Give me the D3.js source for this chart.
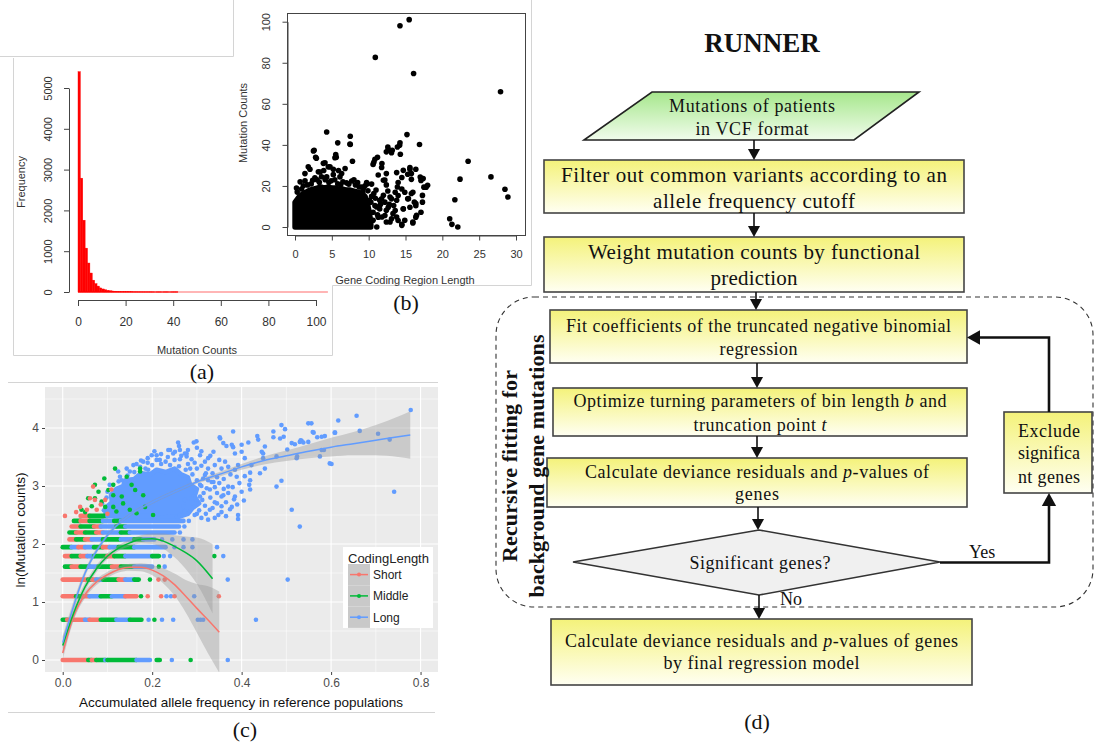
<!DOCTYPE html>
<html>
<head>
<meta charset="utf-8">
<script src="https://cdn.jsdelivr.net/npm/d3@7"></script>
<style>
  html, body { margin: 0; padding: 0; background: #fff; }
  svg { display: block; }
  .rplot text { font-family: 'Liberation Sans', Arial, sans-serif; fill: #333; }
  .flow text, .plabel { font-family: 'Liberation Serif', 'Times New Roman', serif; fill: #111; }
</style>
</head>
<body>
<svg id="fig" width="1096" height="744"></svg>
<script>
// ── (a) histogram: one bin per mutation count ─────────────────
const histCounts = [5400, 2790, 1760, 1075, 710, 465, 290, 205, 145, 100,
  75, 55, 42, 32, 25, 20, 16, 12, 10, 8,
  7, 6, 5, 4, 4, 3, 3, 2, 2, 2,
  2, 1, 0, 1, 1, 0, 1, 1, 0, 1, 1, 1]
const histRangeMax = 105
const histXTicks = [0, 20, 40, 60, 80, 100]
const histYTicks = [0, 1000, 2000, 3000, 4000, 5000]

// ── (b) scatter: coding length vs mutation counts ─────────────
// upper edge of the solid black cloud
const cloudTop = [[0, 0], [0, 12], [0.5, 14.5], [1, 16], [1.5, 17], [2, 18], [2.5, 18.5], [3, 19],
  [3.5, 19.5], [4, 19], [4.5, 19.5], [5, 19], [5.5, 19], [6, 18.5], [6.5, 18.5], [7, 18], [7.5, 18],
  [8, 17.5], [8.5, 17], [9, 16.5], [9.5, 15], [9.8, 12], [10.1, 7], [10.3, 2], [10.3, 0]]
const scatterPoints = [
  [15.5, 101], [14.25, 98], [10.9, 82.6], [16.1, 74.8], [27.9, 65.9], [4.3, 46.3], [15.2, 45], [7.5, 44.2],
  [7.5, 40.2], [5.8, 41], [14.25, 41], [16.9, 40.2], [12.6, 39], [13.9, 39], [2.5, 37], [13.2, 37.4],
  [12.4, 36.6], [14.3, 35.4], [23.5, 32], [11.2, 34], [10.7, 31.5], [11.8, 30.9], [7.8, 32], [2.8, 34],
  [5.6, 34], [15.6, 29], [15.8, 26], [14.7, 27.6], [17.4, 23.6], [22.4, 23.3], [26.6, 24.4], [18, 20.3],
  [17.3, 15.4], [21.7, 13.3], [28.5, 18.4], [28.9, 14.6], [21, 4], [21.3, 1.3], [22.1, 0], [11.1, 0],
  [16.4, 11.4], [16.5, 5.7], [16, 2], [14.5, 1.3], [14.9, 3.3], [13.9, 19.5], [12.4, 26], [12, 22.8],
  [12.9, 14.6], [13.8, 13], [11.5, 13], [11.1, 9.8], [12.4, 8.1], [14.7, 8.9], [13.3, 6.5], [11.8, 4.9],
  [10.6, 3.3], [12.9, 2.4], [13.8, 4.9], [15.4, 13.8], [15.8, 16.3], [10.7, 16.3], [9.8, 21], [9, 19.5],
  [6.8, 28.5], [4.75, 29.3], [3.85, 31], [1.8, 29.3], [1.35, 26], [0.7, 22], [3.4, 26.8], [6.1, 24.4],
  [4.3, 24.4], [7.46, 40.4], [2.6, 37.4], [5.53, 35.3], [5.42, 33.7], [2.9, 33.5], [2.03, 28.1],
  [3.17, 26.9], [4.52, 29.3], [5.2, 28.1], [4.07, 31.3], [6.33, 26], [1.13, 20.1], [1.36, 22.5],
  [9.5, 20.1], [10.4, 20.9], [9.72, 21.7], [10.6, 30.5], [10.85, 33], [11.76, 29], [12.66, 37.9],
  [13.1, 36.2], [14.2, 39.8], [11.3, 25.3], [12.2, 22.9], [12.4, 20.5], [13.8, 26.5], [14, 21.7],
  [14.5, 24.1], [15.6, 28.1], [15.8, 23.2], [14.5, 18.5], [13.6, 16.9], [11.76, 13.7], [12.2, 12.1],
  [13.1, 13.7], [14, 15.3], [14.9, 16.9], [16, 16.9], [15.3, 13.7], [16.2, 12.1], [16.4, 10.4],
  [15.6, 9.6], [14.7, 8.8], [13.6, 8], [12.66, 9.6], [11.5, 8.8], [10.85, 10.4], [10.6, 7.2], [11.3, 4.8],
  [12.2, 5.6], [13.1, 4], [14, 3.2], [14.5, 0.8], [12.4, 2.4], [16, 2.4], [16.4, 4.8], [17.1, 7.2],
  [17.3, 12.1], [17.5, 19.4], [17.8, 19.4], [17.1, 22.7], [17, 24.3], [16.4, 28.1], [15.3, 25.7],
  [9.5, 10.4], [9.95, 7.2], [9.05, 0.8], [9.7, 3.2], [10.2, 1.6], [10.3, 12], [10.9, 14], [11.2, 6],
  [11.6, 11], [12.8, 11], [12, 15.5], [13.4, 10.5], [10.4, 15], [11, 18], [12.6, 17.5],
  [0.3, 17], [0.9, 18.5], [2.2, 21], [3, 23], [4.9, 22.5], [5.4, 23], [7, 21.5], [8.2, 20.5],
  [8.7, 19.5], [9.2, 17], [2.7, 24], [3.6, 24.5], [6.5, 22], [8, 23], [5.2, 25.5],
  [1.7, 20.5], [2.4, 22.8], [3.3, 21.8], [4.1, 23], [4.6, 21.8], [5.8, 21], [6.2, 20.6], [7.3, 20.8],
  [7.7, 22.4], [8.5, 21.6], [9.3, 19], [9.9, 17.6], [10.1, 13], [3.9, 27.5], [5.9, 27.5], [0.2, 19]]
const scatterXTicks = [0, 5, 10, 15, 20, 25, 30]
const scatterYTicks = [0, 20, 40, 60, 80, 100]

// ── (c) ln(counts) vs allele frequency, by coding length ─────
const groups = ['Short', 'Middle', 'Long']
const groupCodes = { S: 'Short', M: 'Middle', L: 'Long' }
// runs of overlapping points on the level y = ln(k): [k, x from, x to, group]
const stripRuns = [
  [1, 0, 0.057, 'S'], [1, 0.057, 0.065, 'M'], [1, 0.065, 0.075, 'S'], [1, 0.075, 0.095, 'M'], [1, 0.095, 0.1, 'L'], [1, 0.1, 0.165, 'M'], [1, 0.165, 0.195, 'L'], [1, 0.21, 0.217, 'M'],
  [2, 0, 0.01, 'M'], [2, 0.01, 0.05, 'S'], [2, 0.05, 0.06, 'L'], [2, 0.06, 0.08, 'S'], [2, 0.085, 0.12, 'M'], [2, 0.12, 0.15, 'L'], [2, 0.15, 0.176, 'M'],
  [3, 0, 0.03, 'S'], [3, 0.03, 0.045, 'M'], [3, 0.045, 0.06, 'S'], [3, 0.06, 0.085, 'L'], [3, 0.085, 0.11, 'M'], [3, 0.11, 0.14, 'L'], [3, 0.14, 0.165, 'S'],
  [4, 0, 0.057, 'S'], [4, 0.057, 0.065, 'M'], [4, 0.065, 0.075, 'S'], [4, 0.075, 0.09, 'L'], [4, 0.09, 0.125, 'M'], [4, 0.125, 0.14, 'S'], [4, 0.14, 0.16, 'L'], [4, 0.16, 0.17, 'M'],
  [5, 0.005, 0.02, 'M'], [5, 0.02, 0.04, 'S'], [5, 0.04, 0.06, 'M'], [5, 0.06, 0.08, 'L'], [5, 0.08, 0.11, 'M'], [5, 0.11, 0.13, 'S'], [5, 0.13, 0.16, 'M'], [5, 0.16, 0.2, 'L'],
  [6, 0.005, 0.02, 'S'], [6, 0.02, 0.04, 'M'], [6, 0.04, 0.055, 'S'], [6, 0.055, 0.07, 'L'], [6, 0.07, 0.1, 'M'], [6, 0.1, 0.115, 'S'], [6, 0.115, 0.14, 'M'], [6, 0.14, 0.2, 'L'], [6, 0.2, 0.215, 'M'],
  [7, 0, 0.02, 'M'], [7, 0.02, 0.035, 'L'], [7, 0.035, 0.05, 'S'], [7, 0.05, 0.07, 'L'], [7, 0.07, 0.09, 'M'], [7, 0.09, 0.105, 'S'], [7, 0.105, 0.125, 'L'], [7, 0.125, 0.16, 'M'], [7, 0.16, 0.23, 'L'],
  [8, 0.015, 0.03, 'S'], [8, 0.03, 0.05, 'M'], [8, 0.05, 0.065, 'S'], [8, 0.065, 0.09, 'L'], [8, 0.09, 0.13, 'M'], [8, 0.13, 0.16, 'L'], [8, 0.16, 0.18, 'M'], [8, 0.18, 0.205, 'L'],
  [9, 0.015, 0.03, 'M'], [9, 0.03, 0.05, 'S'], [9, 0.05, 0.075, 'M'], [9, 0.075, 0.09, 'S'], [9, 0.09, 0.13, 'L'], [9, 0.13, 0.15, 'M'], [9, 0.15, 0.25, 'L'],
  [10, 0.02, 0.04, 'S'], [10, 0.04, 0.07, 'M'], [10, 0.07, 0.085, 'S'], [10, 0.085, 0.12, 'L'], [10, 0.12, 0.14, 'M'], [10, 0.14, 0.26, 'L'],
  [11, 0.025, 0.04, 'M'], [11, 0.04, 0.06, 'S'], [11, 0.06, 0.09, 'M'], [11, 0.09, 0.115, 'L'], [11, 0.115, 0.13, 'M'], [11, 0.13, 0.27, 'L'],
  [12, 0.04, 0.06, 'S'], [12, 0.06, 0.1, 'M'], [12, 0.1, 0.2, 'L']]
// single points on the same levels: [k, x, group]
const stripPoints = [
  [1, 0.244, 'L'], [1, 0.286, 'M'], [1, 0.369, 'L'],
  [2, 0.192, 'L'], [2, 0.205, 'M'], [2, 0.222, 'L'], [2, 0.247, 'L'], [2, 0.302, 'L'], [2, 0.308, 'L'], [2, 0.314, 'L'], [2, 0.432, 'L'],
  [3, 0.175, 'M'], [3, 0.19, 'S'], [3, 0.22, 'S'], [3, 0.232, 'L'], [3, 0.242, 'L'], [3, 0.25, 'S'], [3, 0.294, 'L'], [3, 0.349, 'S'],
  [4, 0.195, 'M'], [4, 0.214, 'S'], [4, 0.228, 'S'], [4, 0.369, 'L'], [4, 0.503, 'L'],
  [5, 0.215, 'M'], [5, 0.228, 'L'],
  [6, 0.226, 'L'], [6, 0.24, 'L'], [6, 0.339, 'M'], [6, 0.359, 'L'],
  [7, 0.25, 'L'], [7, 0.27, 'L'], [7, 0.29, 'L'], [7, 0.345, 'L'],
  [8, 0.222, 'L'], [8, 0.245, 'L'], [8, 0.27, 'L'], [8, 0.29, 'L'],
  [9, 0.262, 'L'], [10, 0.272, 'L'], [11, 0.282, 'L'], [12, 0.005, 'S']]
// dense core of the Long points (ragged outline)
const longCore = [[0.095, 2.5], [0.1, 2.65], [0.11, 2.72], [0.108, 2.85], [0.12, 2.95], [0.135, 3.0], [0.14, 3.1],
  [0.16, 3.12], [0.175, 3.22], [0.195, 3.2], [0.21, 3.28], [0.23, 3.24], [0.25, 3.3], [0.265, 3.2], [0.28, 3.15],
  [0.285, 3.02], [0.3, 2.95], [0.295, 2.82], [0.305, 2.7], [0.29, 2.62], [0.28, 2.52], [0.26, 2.47], [0.2, 2.45],
  [0.15, 2.45]]
const longCloud = [
  [0.778, 4.31], [0.657, 4.21], [0.616, 4.13], [0.556, 4.08], [0.549, 4.08], [0.489, 4.05], [0.497, 3.98], [0.381, 3.94],
  [0.471, 3.94], [0.664, 3.95], [0.705, 3.9], [0.609, 3.92], [0.561, 3.92], [0.351, 3.84], [0.435, 3.86], [0.437, 3.8],
  [0.471, 3.84], [0.486, 3.82], [0.494, 3.85], [0.579, 3.85], [0.731, 3.8], [0.534, 3.78], [0.512, 3.74], [0.53, 3.76],
  [0.549, 3.76], [0.352, 3.82], [0.258, 3.75], [0.26, 3.69], [0.293, 3.75], [0.299, 3.77], [0.359, 3.74], [0.366, 3.69],
  [0.378, 3.71], [0.381, 3.67], [0.4, 3.71], [0.415, 3.75], [0.4, 3.59], [0.385, 3.56], [0.445, 3.59], [0.448, 3.56],
  [0.452, 3.68], [0.407, 3.48], [0.502, 3.63], [0.251, 3.59], [0.273, 3.56], [0.277, 3.51], [0.307, 3.53], [0.337, 3.59],
  [0.325, 3.48], [0.318, 3.42], [0.262, 3.46], [0.288, 3.46], [0.363, 3.42], [0.37, 3.33], [0.34, 3.36], [0.355, 3.3],
  [0.392, 3.36], [0.478, 3.51], [0.524, 3.51], [0.419, 3.23], [0.441, 3.22], [0.452, 3.3], [0.489, 3.09], [0.478, 2.99],
  [0.419, 3.1], [0.417, 3.02], [0.419, 2.94], [0.407, 3.17], [0.37, 2.99], [0.359, 2.84], [0.355, 2.82], [0.385, 2.82],
  [0.383, 2.77], [0.378, 2.64], [0.374, 2.6], [0.392, 2.5], [0.392, 2.43], [0.329, 2.59], [0.348, 2.5], [0.512, 2.59],
  [0.53, 2.3], [0.329, 2.94], [0.333, 3.07], [0.307, 3.02], [0.314, 3.13], [0.318, 3.19], [0.292, 2.82], [0.299, 2.7],
  [0.273, 2.76], [0.27, 2.64], [0.273, 2.56], [0.255, 2.47], [0.262, 2.5], [0.523, 3.48], [0.575, 3.51], [0.579, 3.62],
  [0.597, 3.39], [0.448, 3.48], [0.741, 2.9], [0.422, 3.36], [0.199, 3.53], [0.21, 3.45], [0.236, 3.62], [0.247, 3.56],
  [0.262, 3.62], [0.173, 3.33], [0.15, 3.25], [0.124, 3.25], [0.132, 3.1], [0.559, 3.93], [0.569, 3.84], [0.586, 3.86],
  [0.608, 3.92], [0.519, 3.72], [0.532, 3.79], [0.538, 3.75], [0.584, 3.62], [0.601, 3.38], [0.307, 2.82], [0.288, 2.79],
  [0.337, 3.07], [0.389, 3.16], [0.322, 2.96], [0.158, 3.36], [0.18, 3.42], [0.21, 3.53], [0.24, 3.62], [0.277, 3.56],
  [0.217, 3.45], [0.191, 3.28], [0.143, 3.3], [0.128, 3.16],
  [0.1, 2.9], [0.105, 3.02], [0.125, 3.08], [0.145, 3.18], [0.16, 3.24], [0.185, 3.3], [0.2, 3.36], [0.22, 3.38],
  [0.24, 3.36], [0.26, 3.34], [0.275, 3.28], [0.29, 3.2], [0.3, 3.1], [0.31, 3.0], [0.315, 2.88], [0.312, 2.76],
  [0.318, 2.66], [0.305, 2.58], [0.295, 2.5], [0.092, 2.58], [0.088, 2.7], [0.098, 2.8], [0.23, 3.42], [0.19, 3.4],
  [0.165, 3.38], [0.28, 3.38], [0.3, 3.3], [0.32, 3.22], [0.325, 3.1], [0.34, 2.98], [0.345, 2.7], [0.335, 2.62],
  [0.32, 2.52],
  [0.285, 3.3], [0.295, 3.4], [0.31, 3.35], [0.325, 3.3], [0.335, 3.22], [0.345, 3.15], [0.35, 3.05], [0.36, 2.95],
  [0.345, 2.88], [0.33, 2.8], [0.34, 2.72], [0.355, 2.65], [0.365, 2.72], [0.37, 2.88], [0.38, 2.98], [0.395, 3.05],
  [0.4, 2.9], [0.405, 2.75], [0.39, 2.68], [0.36, 3.12], [0.375, 3.2], [0.385, 3.28], [0.35, 3.45], [0.33, 3.52],
  [0.31, 3.6], [0.3, 3.66], [0.28, 3.62], [0.265, 3.52], [0.25, 3.45], [0.235, 3.5], [0.22, 3.55], [0.205, 3.6],
  [0.19, 3.48], [0.175, 3.44], [0.3, 2.52], [0.31, 2.45], [0.325, 2.42], [0.34, 2.45], [0.355, 2.55], [0.365, 2.48]]
const middleCloud = [
  [0.117, 3.3], [0.093, 3.13], [0.057, 2.79], [0.072, 2.79], [0.087, 2.73], [0.08, 2.9], [0.102, 2.93], [0.113, 2.84],
  [0.132, 2.82], [0.154, 3.02], [0.162, 2.93], [0.18, 2.84], [0.095, 2.64], [0.113, 2.64], [0.135, 2.7], [0.15, 2.59],
  [0.184, 2.64], [0.202, 2.5], [0.165, 2.53], [0.065, 2.65], [0.042, 2.59], [0.173, 3.25], [0.072, 3.02], [0.143, 3.16],
  [0.113, 3.02], [0.173, 3.3], [0.12, 2.56], [0.05, 2.55]]
const shortCloud = [
  [0.068, 2.99], [0.061, 2.79], [0.072, 2.76], [0.109, 2.94], [0.039, 2.64], [0.054, 2.59], [0.076, 2.59], [0.095, 2.76],
  [0.03, 2.55], [0.085, 2.68], [0.1, 2.52]]
// loess fits with standard errors
const fitShortX = [0, 0.025, 0.05, 0.075, 0.1, 0.125, 0.15, 0.175, 0.2, 0.225, 0.25, 0.275, 0.3, 0.325, 0.35]
const fitShortY = [0.12, 0.77, 1.13, 1.34, 1.47, 1.56, 1.6, 1.6, 1.55, 1.45, 1.3, 1.1, 0.89, 0.69, 0.48]
const fitShortSE = [0.12, 0.08, 0.06, 0.05, 0.05, 0.05, 0.06, 0.07, 0.09, 0.13, 0.19, 0.28, 0.42, 0.58, 0.7]
const fitMiddleX = [0, 0.025, 0.05, 0.075, 0.1, 0.125, 0.15, 0.175, 0.2, 0.225, 0.25, 0.275, 0.3, 0.335]
const fitMiddleY = [0.25, 0.82, 1.26, 1.57, 1.79, 1.93, 2.02, 2.08, 2.09, 2.05, 1.96, 1.85, 1.71, 1.4]
const fitMiddleSE = [0.15, 0.1, 0.07, 0.06, 0.05, 0.05, 0.06, 0.07, 0.09, 0.13, 0.19, 0.28, 0.4, 0.6]
const fitLongX = [0, 0.05, 0.1, 0.15, 0.2, 0.25, 0.3, 0.35, 0.4, 0.45, 0.5, 0.55, 0.6, 0.65, 0.7, 0.75, 0.777]
const fitLongY = [0.3, 1.5, 2.15, 2.5, 2.72, 2.9, 3.07, 3.2, 3.33, 3.44, 3.52, 3.6, 3.67, 3.73, 3.79, 3.85, 3.88]
const fitLongSE = [0.12, 0.06, 0.04, 0.03, 0.03, 0.03, 0.03, 0.04, 0.05, 0.07, 0.09, 0.12, 0.16, 0.2, 0.26, 0.35, 0.41]
const freqTicks = [0, 0.2, 0.4, 0.6, 0.8]
const lnTicks = [0, 1, 2, 3, 4]

// ── (d) RUNNER flowchart text ──────────────────────────────────
const flowTitle = 'RUNNER'
const inputText = ['Mutations of  patients', 'in VCF format']
const stepTexts = [
  ['Filter out common variants according to an', 'allele frequency cutoff'],
  ['Weight mutation counts by functional', 'prediction'],
  ['Fit coefficients of the truncated negative binomial', 'regression'],
  ['Optimize turning parameters of bin length _b_ and', 'truncation point _t_'],
  ['Calculate deviance residuals and _p_-values of', 'genes']]
const decisionText = 'Significant genes?'
const excludeText = ['Exclude', 'significa', 'nt genes']
const finalText = ['Calculate deviance residuals and _p_-values of genes', 'by final regression model']
const loopLabel = ['Recursive fitting for', 'background gene mutations']
const branchLabels = ['Yes', 'No']
const panelLabels = ['(a)', '(b)', '(c)', '(d)']

const groupColor = { Short: '#F8766D', Middle: '#00BA38', Long: '#619CFF' }

const svg = d3.select('#fig')
const defs = svg.append('defs')

// ── FRAMES OF THE PASTED PLOTS ─────────────────────────────────
const frames = svg.append('g').attr('stroke', '#d4d4d4').attr('stroke-width', 1).attr('fill', 'none')
frames.append('path').attr('d', 'M0,56.5H233.5V0')
frames.append('path').attr('d', 'M13.5,58V355.5H332.5V285.5H531.5V0')
frames.append('path').attr('d', 'M8,382.5H438M8,712.5H435')

function styleAxis (sel, size) {
  sel.attr('font-size', size).attr('font-family', null)
  sel.selectAll('path, line').attr('stroke', '#444')
}

// ── (a) HISTOGRAM ──────────────────────────────────────────────
const ga = svg.append('g').attr('class', 'rplot')
const xA = d3.scaleLinear().domain([0, 100]).range([78, 316])
const yA = d3.scaleLinear().domain([0, 5000]).range([292, 88])

ga.append('line')
  .attr('x1', xA(histCounts.length)).attr('x2', xA(histRangeMax))
  .attr('y1', yA(0)).attr('y2', yA(0))
  .attr('stroke', '#ff9d9d').attr('stroke-width', 1.4)
ga.append('line')
  .attr('x1', xA(0)).attr('x2', xA(histCounts.length))
  .attr('y1', yA(0)).attr('y2', yA(0))
  .attr('stroke', '#ff2020').attr('stroke-width', 1.4)
ga.selectAll('rect.bar')
  .data(histCounts)
  .join('rect')
  .attr('class', 'bar')
  .attr('x', (d, i) => xA(i))
  .attr('width', (d, i) => xA(i + 1) - xA(i))
  .attr('y', d => yA(d))
  .attr('height', d => yA(0) - yA(d))
  .attr('fill', '#ff0000')
  .attr('stroke', '#ff0000')
  .attr('stroke-width', 0.4)

ga.append('g')
  .attr('transform', 'translate(69,0)')
  .call(d3.axisLeft(yA).tickValues(histYTicks).tickSize(5).tickSizeOuter(0).tickFormat(d3.format('d')))
  .call(s => styleAxis(s, 11))
  .call(s => s.selectAll('text')
    .attr('transform', 'rotate(-90)').attr('x', 0).attr('y', -17).attr('dy', 0)
    .attr('text-anchor', 'middle'))
ga.append('g')
  .attr('transform', 'translate(0,300)')
  .call(d3.axisBottom(xA).tickValues(histXTicks).tickSize(6).tickSizeOuter(0))
  .call(s => styleAxis(s, 12))
  .call(s => s.selectAll('text').attr('y', 17))
ga.append('text').attr('x', 197).attr('y', 354).attr('text-anchor', 'middle')
  .attr('font-size', 11).text('Mutation Counts')
ga.append('text').attr('transform', 'translate(25,182) rotate(-90)').attr('text-anchor', 'middle')
  .attr('font-size', 11).text('Frequency')

// ── (b) SCATTER ────────────────────────────────────────────────
const gb = svg.append('g').attr('class', 'rplot')
const xB = d3.scaleLinear().domain([0, 30]).range([295, 516])
const yB = d3.scaleLinear().domain([0, 100]).range([227, 21.7])

gb.append('path')
  .datum(cloudTop)
  .attr('d', d3.area().x(d => xB(d[0])).y0(yB(0)).y1(d => yB(d[1])))
  .attr('fill', '#000').attr('stroke', '#000').attr('stroke-width', 5.4).attr('stroke-linejoin', 'round')
gb.selectAll('circle')
  .data(scatterPoints)
  .join('circle')
  .attr('cx', d => xB(d[0]))
  .attr('cy', d => yB(d[1]))
  .attr('r', 2.8)
  .attr('fill', '#000')
gb.append('rect').attr('x', 287.5).attr('y', 13.5).attr('width', 238).attr('height', 222)
  .attr('fill', 'none').attr('stroke', '#444')
gb.append('g')
  .attr('transform', 'translate(287.5,0)')
  .call(d3.axisLeft(yB).tickValues(scatterYTicks).tickSize(5).tickSizeOuter(0))
  .call(s => styleAxis(s, 11))
  .call(s => s.selectAll('text')
    .attr('transform', 'rotate(-90)').attr('x', 0).attr('y', -18).attr('dy', 0)
    .attr('text-anchor', 'middle'))
gb.append('g')
  .attr('transform', 'translate(0,235.5)')
  .call(d3.axisBottom(xB).tickValues(scatterXTicks).tickSize(5).tickSizeOuter(0))
  .call(s => styleAxis(s, 11))
  .call(s => s.selectAll('text').attr('y', 15))
gb.append('text').attr('x', 405).attr('y', 284).attr('text-anchor', 'middle')
  .attr('font-size', 11).text('Gene Coding Region Length')
gb.append('text').attr('transform', 'translate(247,123) rotate(-90)').attr('text-anchor', 'middle')
  .attr('font-size', 11).text('Mutation Counts')

// ── (c) GGPLOT SCATTER WITH LOESS ──────────────────────────────
const gc = svg.append('g').attr('class', 'rplot')
const xC = d3.scaleLinear().domain([-0.0396, 0.839]).range([45, 438])
const yC = d3.scaleLinear().domain([-0.207, 4.707]).range([672, 387])

defs.append('clipPath').attr('id', 'clipC')
  .append('rect').attr('x', 45).attr('y', 387).attr('width', 393).attr('height', 285)

gc.append('rect').attr('x', 45).attr('y', 387).attr('width', 393).attr('height', 285).attr('fill', '#EBEBEB')
const grid = gc.append('g').attr('stroke', '#fff')
const minorX = [0.1, 0.3, 0.5, 0.7]
const minorY = [0.5, 1.5, 2.5, 3.5, 4.5]
grid.selectAll('line.mx').data(minorX).join('line').attr('class', 'mx')
  .attr('x1', d => xC(d)).attr('x2', d => xC(d)).attr('y1', 387).attr('y2', 672).attr('stroke-width', 0.55)
grid.selectAll('line.my').data(minorY).join('line').attr('class', 'my')
  .attr('y1', d => yC(d)).attr('y2', d => yC(d)).attr('x1', 45).attr('x2', 438).attr('stroke-width', 0.55)
grid.selectAll('line.gx').data(freqTicks).join('line').attr('class', 'gx')
  .attr('x1', d => xC(d)).attr('x2', d => xC(d)).attr('y1', 387).attr('y2', 672).attr('stroke-width', 1.1)
grid.selectAll('line.gy').data(lnTicks).join('line').attr('class', 'gy')
  .attr('y1', d => yC(d)).attr('y2', d => yC(d)).attr('x1', 45).attr('x2', 438).attr('stroke-width', 1.1)

const plotC = gc.append('g').attr('clip-path', 'url(#clipC)')
const ptR = 2.3

plotC.append('path')
  .datum(longCore)
  .attr('d', d3.line().x(d => xC(d[0])).y(d => yC(d[1])).curve(d3.curveLinearClosed))
  .attr('fill', groupColor.Long).attr('stroke', groupColor.Long)
  .attr('stroke-width', ptR * 2).attr('stroke-linejoin', 'round')
plotC.selectAll('circle.long')
  .data(longCloud).join('circle').attr('class', 'long')
  .attr('cx', d => xC(d[0])).attr('cy', d => yC(d[1])).attr('r', ptR).attr('fill', groupColor.Long)

plotC.selectAll('line.run')
  .data(stripRuns).join('line').attr('class', 'run')
  .attr('x1', d => xC(d[1])).attr('x2', d => xC(d[2]))
  .attr('y1', d => yC(Math.log(d[0]))).attr('y2', d => yC(Math.log(d[0])))
  .attr('stroke', d => groupColor[groupCodes[d[3]]])
  .attr('stroke-width', ptR * 2).attr('stroke-linecap', 'round')
plotC.selectAll('circle.sp')
  .data(stripPoints).join('circle').attr('class', 'sp')
  .attr('cx', d => xC(d[1])).attr('cy', d => yC(Math.log(d[0]))).attr('r', ptR)
  .attr('fill', d => groupColor[groupCodes[d[2]]])

plotC.selectAll('circle.mid')
  .data(middleCloud).join('circle').attr('class', 'mid')
  .attr('cx', d => xC(d[0])).attr('cy', d => yC(d[1])).attr('r', ptR).attr('fill', groupColor.Middle)
plotC.selectAll('circle.short')
  .data(shortCloud).join('circle').attr('class', 'short')
  .attr('cx', d => xC(d[0])).attr('cy', d => yC(d[1])).attr('r', ptR).attr('fill', groupColor.Short)

const fits = [
  { group: 'Short', x: fitShortX, y: fitShortY, se: fitShortSE },
  { group: 'Middle', x: fitMiddleX, y: fitMiddleY, se: fitMiddleSE },
  { group: 'Long', x: fitLongX, y: fitLongY, se: fitLongSE }
].map(f => ({ group: f.group, rows: f.x.map((x, i) => ({ x, y: f.y[i], se: f.se[i] })) }))

const ribbon = d3.area().x(d => xC(d.x)).y0(d => yC(d.y - d.se)).y1(d => yC(d.y + d.se)).curve(d3.curveMonotoneX)
const smooth = d3.line().x(d => xC(d.x)).y(d => yC(d.y)).curve(d3.curveMonotoneX)

plotC.selectAll('path.ribbon')
  .data(fits).join('path').attr('class', 'ribbon')
  .attr('d', d => ribbon(d.rows)).attr('fill', '#999').attr('fill-opacity', 0.4)
plotC.selectAll('path.fit')
  .data(fits).join('path').attr('class', 'fit')
  .attr('d', d => smooth(d.rows)).attr('fill', 'none')
  .attr('stroke', d => groupColor[d.group]).attr('stroke-width', 1.5)

gc.append('g')
  .attr('transform', 'translate(45,0)')
  .call(d3.axisLeft(yC).tickValues(lnTicks).tickSize(3).tickPadding(3).tickFormat(d3.format('d')))
  .call(s => styleAxis(s, 12))
  .call(s => s.select('.domain').remove())
  .call(s => s.selectAll('text').style('fill', '#4d4d4d'))
gc.append('g')
  .attr('transform', 'translate(0,672)')
  .call(d3.axisBottom(xC).tickValues(freqTicks).tickSize(3).tickPadding(3).tickFormat(d3.format('.1f')))
  .call(s => styleAxis(s, 12))
  .call(s => s.select('.domain').remove())
  .call(s => s.selectAll('text').style('fill', '#4d4d4d'))
gc.append('text').attr('x', 241).attr('y', 707).attr('text-anchor', 'middle')
  .attr('font-size', 13.5).style('fill', '#111').text('Accumulated allele frequency in reference populations')
gc.append('text').attr('transform', 'translate(25,530) rotate(-90)').attr('text-anchor', 'middle')
  .attr('font-size', 13.5).style('fill', '#111').text('ln(Mutation counts)')

// legend
const lg = gc.append('g').attr('transform', 'translate(343,547)')
lg.append('rect').attr('width', 90).attr('height', 81).attr('fill', '#fff')
lg.append('text').attr('x', 5).attr('y', 16).attr('font-size', 13).style('fill', '#222').text('CodingLength')
const keys = lg.selectAll('g.key').data(groups).join('g').attr('class', 'key')
  .attr('transform', (d, i) => `translate(5,${17 + i * 21.3})`)
keys.append('rect').attr('width', 22).attr('height', 21.3).attr('fill', '#c9c9c9')
keys.append('line').attr('x1', 2).attr('x2', 20).attr('y1', 10.6).attr('y2', 10.6)
  .attr('stroke', d => groupColor[d]).attr('stroke-width', 1.5)
keys.append('circle').attr('cx', 11).attr('cy', 10.6).attr('r', 2).attr('fill', d => groupColor[d])
keys.append('text').attr('x', 25).attr('y', 15).attr('font-size', 12).style('fill', '#222').text(d => d)

// ── (d) FLOWCHART ──────────────────────────────────────────────
function vGrad (id, top, bottom) {
  const g = defs.append('linearGradient').attr('id', id).attr('x1', 0).attr('y1', 0).attr('x2', 0).attr('y2', 1)
  g.append('stop').attr('offset', '0%').attr('stop-color', top)
  g.append('stop').attr('offset', '100%').attr('stop-color', bottom)
}
vGrad('gYellow', '#f4f27a', '#fffff2')
vGrad('gGreen', '#a6e78c', '#f1fcec')

const fl = svg.append('g').attr('class', 'flow')

function addText (g, str, cx, y, size, width) {
  const t = g.append('text').attr('x', cx).attr('y', y).attr('text-anchor', 'middle').attr('font-size', size)
  str.split('_').forEach((part, i) => {
    if (part) t.append('tspan').attr('font-style', i % 2 ? 'italic' : null).text(part)
  })
  if (width) t.attr('textLength', width).attr('lengthAdjust', 'spacing')
  return t
}

function arrow (pts, width = 1.6, head = 11) {
  const [x1, y1] = pts[pts.length - 2]
  const [x2, y2] = pts[pts.length - 1]
  const ang = Math.atan2(y2 - y1, x2 - x1)
  const back = pts.slice()
  back[back.length - 1] = [x2 - Math.cos(ang) * head * 0.8, y2 - Math.sin(ang) * head * 0.8]
  fl.append('path').attr('d', d3.line()(back)).attr('fill', 'none')
    .attr('stroke', '#111').attr('stroke-width', width)
  const hw = head * 0.55
  const bx = x2 - Math.cos(ang) * head
  const by = y2 - Math.sin(ang) * head
  fl.append('path')
    .attr('d', `M${x2},${y2}L${bx - Math.sin(ang) * hw},${by + Math.cos(ang) * hw}L${bx + Math.sin(ang) * hw},${by - Math.cos(ang) * hw}Z`)
    .attr('fill', '#111')
}

// dashed loop region
fl.append('rect').attr('x', 496).attr('y', 297).attr('width', 597).attr('height', 310).attr('rx', 38)
  .attr('fill', 'none').attr('stroke', '#333').attr('stroke-width', 1.1).attr('stroke-dasharray', '5,4')

fl.append('text').attr('x', 762).attr('y', 52).attr('text-anchor', 'middle')
  .attr('font-size', 27).attr('font-weight', 'bold').text(flowTitle)

fl.append('path').attr('d', 'M652,92L919,92L854,140L584,140Z')
  .attr('fill', 'url(#gGreen)').attr('stroke', '#222').attr('stroke-width', 1.6)
addText(fl, inputText[0], 752, 112, 18, 166)
addText(fl, inputText[1], 752, 135, 18, 113)

const stepBoxes = [
  { x0: 544, x1: 964, y0: 160, y1: 213, size: 21, base: [182, 208], w: [386, 202] },
  { x0: 544, x1: 964, y0: 237, y1: 292, size: 21, base: [259, 285], w: [332, 87] },
  { x0: 550, x1: 967, y0: 310, y1: 363, size: 18, base: [332, 355], w: [385, 78] },
  { x0: 553, x1: 967, y0: 388, y1: 436, size: 18, base: [407, 431], w: [373, 133] },
  { x0: 547, x1: 967, y0: 458, y1: 507, size: 18, base: [478, 500], w: [344, 44] }
]
function box (b, lines, cx) {
  fl.append('rect').attr('x', b.x0).attr('y', b.y0).attr('width', b.x1 - b.x0).attr('height', b.y1 - b.y0)
    .attr('fill', 'url(#gYellow)').attr('stroke', '#444').attr('stroke-width', 1.6)
  lines.forEach((ln, i) => addText(fl, ln, cx ?? (b.x0 + b.x1) / 2, b.base[i], b.size, b.w[i]))
}
stepBoxes.forEach((b, i) => box(b, stepTexts[i]))

// decision diamond
fl.append('path').attr('d', 'M573,562L759,530L940,562L759,595Z')
  .attr('fill', '#f0f0f0').attr('stroke', '#333').attr('stroke-width', 1.6)
addText(fl, decisionText, 760, 569, 18, 141)

// exclude box and final box
box({ x0: 1004, x1: 1092, y0: 412, y1: 493, size: 18, base: [437, 459, 483], w: [62, 62, 62] }, excludeText, 1049)
box({ x0: 551, x1: 972, y0: 619, y1: 685, size: 18, base: [647, 669], w: [393, 196] }, finalText)

// main arrows
arrow([[754, 140], [754, 160]])
arrow([[754, 213], [754, 237]])
arrow([[756, 292], [756, 310]])
arrow([[757, 363], [757, 388]])
arrow([[757, 436], [757, 458]])
arrow([[758, 507], [758, 530]])
arrow([[759, 595], [759, 619]])
// feedback loop
arrow([[940, 562.5], [1049, 562.5], [1049, 493]], 2.6, 13)
arrow([[1049, 412], [1049, 337.5], [967, 337.5]], 2.6, 13)

fl.append('text').attr('x', 969).attr('y', 558).attr('font-size', 18).text(branchLabels[0])
fl.append('text').attr('x', 780).attr('y', 605).attr('font-size', 18).text(branchLabels[1])

fl.append('text').attr('transform', 'translate(517,466) rotate(-90)').attr('text-anchor', 'middle')
  .attr('font-size', 22).attr('font-weight', 'bold').attr('textLength', 192).attr('lengthAdjust', 'spacing')
  .text(loopLabel[0])
fl.append('text').attr('transform', 'translate(544,466) rotate(-90)').attr('text-anchor', 'middle')
  .attr('font-size', 22).attr('font-weight', 'bold').attr('textLength', 263).attr('lengthAdjust', 'spacing')
  .text(loopLabel[1])

// ── PANEL LABELS ───────────────────────────────────────────────
const labelPos = [[202, 379], [406, 310], [245, 737], [757, 729]]
svg.selectAll('text.plabel')
  .data(panelLabels)
  .join('text')
  .attr('class', 'plabel')
  .attr('x', (d, i) => labelPos[i][0])
  .attr('y', (d, i) => labelPos[i][1])
  .attr('text-anchor', 'middle')
  .attr('font-size', 22)
  .text(d => d)
</script>
</body>
</html>
